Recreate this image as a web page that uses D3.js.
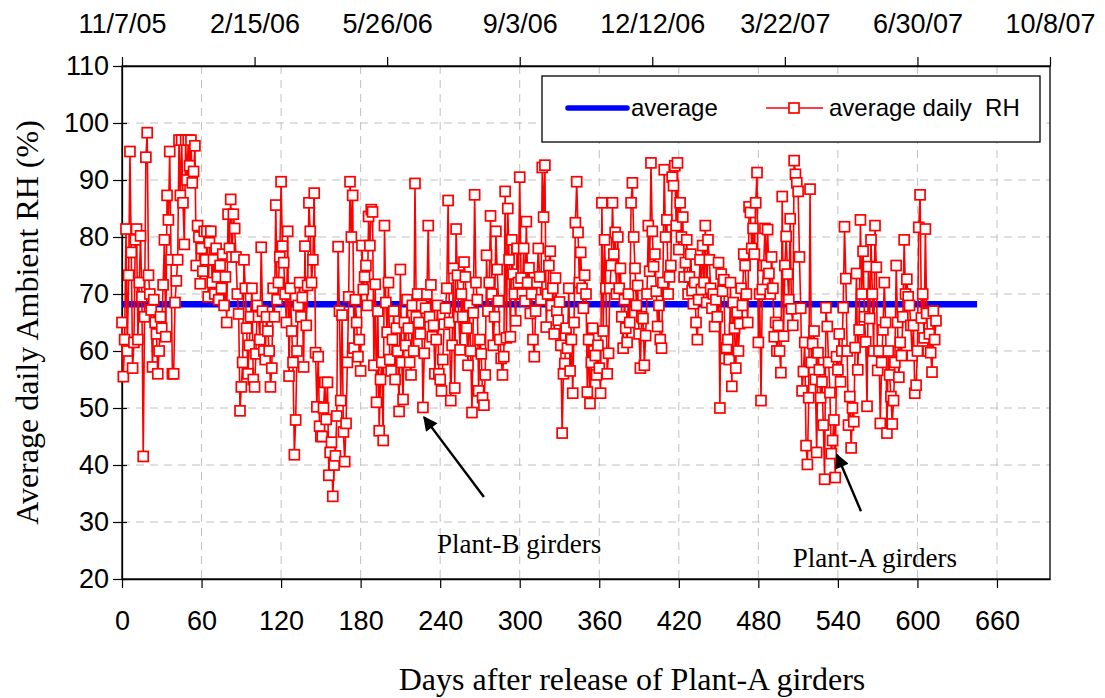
<!DOCTYPE html>
<html>
<head>
<meta charset="utf-8">
<script src="https://cdn.jsdelivr.net/npm/d3@7"></script>
<style>
  body { margin: 0; background: #fff; }
</style>
</head>
<body>
<div id="chart"></div>
<script>
// daily RH values, index = days after release of Plant-A girders
const rhValues = [
  65, 55.5, 62, 81.4, 60, 73.3, 95, 77.3, 57, 61.5,
  79.5, 81.4, 62, 72, 80.2, 69.5, 41.5, 66, 94, 98.3,
  73.3, 70, 67.2, 57.2, 69, 65, 63, 56, 60, 66,
  64, 71.6, 79.5, 62.5, 87.3, 83, 95, 76, 56, 56,
  68.5, 72.3, 76, 97, 87.3, 97, 86, 78.7, 97, 90,
  97, 92.5, 97, 89.5, 91.5, 96, 75, 82, 80, 71.8,
  78, 74, 81, 76, 81, 69.5, 79, 81, 72, 76,
  70, 78, 73, 69, 75, 71, 77, 68, 73, 65,
  84, 78, 86.6, 76.5, 84, 81.5, 76.5, 70, 66.5, 49.5,
  53.7, 58, 76, 71, 64, 56, 61, 66, 71, 55,
  53.7, 59.5, 68, 66, 62, 78.2, 67, 60, 58.5, 66,
  63.5, 60, 53.7, 57, 71, 66, 85.6, 69, 72, 76.5,
  89.7, 78.4, 75.5, 70, 65, 81, 55.6, 71, 63.5, 58,
  41.8, 47.9, 60, 68, 72, 66, 69.4, 57.2, 78.4, 64.5,
  71.5, 86, 81, 72, 76, 87.7, 59.7, 50.2, 59, 46.8,
  45, 45, 50, 54.5, 48, 54.5, 38.2, 42.2, 44, 34.5,
  40, 41.6, 48.6, 78.3, 67, 51.3, 66.3, 45.8, 40.6, 47.3,
  58, 69.5, 89.7, 80, 87.3, 60.5, 69, 65, 59, 62,
  56.5, 78.5, 70.8, 73, 75, 68, 83.6, 78.5, 84.8, 84.4,
  57.5, 71.7, 51, 67, 46, 55, 58, 44.3, 82, 68.5,
  63.3, 72, 58.5, 56.5, 62, 67, 55, 64, 60, 49.4,
  74.3, 58, 51.5, 65, 61, 69, 64, 58, 55.8, 68,
  60, 89.4, 66, 70, 65, 63, 68, 50.1, 59.6, 67.5,
  70, 82, 66, 71.6, 62.5, 64.5, 56, 62, 68, 56,
  55, 53, 58.5, 64.7, 67.5, 71, 86.4, 65, 51.3, 61,
  74.5, 53.5, 81.4, 73.3, 66, 60.2, 70, 66, 75.6, 73,
  64, 57.5, 68, 60, 49.2, 66.7, 87.4, 72, 69, 53,
  62, 59.5, 51.8, 50.5, 55.8, 76.8, 67, 72, 83.7, 70,
  61, 66, 81, 74.3, 68.8, 62, 58.7, 55.8, 59, 88,
  62.3, 85, 76, 62.5, 79.5, 73.5, 70, 65.3, 78, 72,
  90.5, 72.8, 70, 78, 68.8, 82.7, 72, 74.6, 66.6, 70,
  62, 59, 67, 72, 78, 73, 69, 92.2, 83.5, 92.6,
  64.2, 70, 75, 77.5, 68, 71, 63, 72.8, 67, 65.4,
  68.6, 61, 45.6, 56, 57.8, 64, 60.5, 71, 56.5, 62,
  52.6, 65, 82.5, 89.7, 80.8, 72, 77.3, 71, 67.5, 73.3,
  70, 52.8, 62, 50.8, 58, 64, 60, 59.2, 55.8, 61,
  57, 52.6, 86, 63.5, 79.5, 71, 56, 59.6, 71, 75,
  86, 77, 80.8, 70, 80, 71, 74.5, 66, 60.5, 69,
  64, 61.5, 70, 65, 86, 89.5, 80, 74.5, 68, 71.5,
  63, 57, 66, 65.7, 57.5, 62.7, 70, 82, 74, 93,
  81, 74.8, 77, 70.5, 64.3, 68, 62, 60.5, 72, 91.8,
  80, 83, 70, 73, 75, 90.5, 89, 92.5, 82, 93,
  77.8, 86, 80, 83.5, 73, 75.5, 79.5, 70, 73, 77,
  70.6, 68.3, 72, 65, 62, 69, 76, 70.8, 78.5, 72,
  82, 68.5, 79.5, 76, 71, 67.5, 70, 64.3, 69, 66,
  75.5, 50, 73.5, 70.5, 72.5, 58.7, 60.6, 62, 58.5, 72,
  53.8, 68.5, 64, 57, 66.8, 60, 64.8, 71, 68, 77,
  75, 70, 65, 85.3, 84.3, 78, 81.5, 77, 86, 91.3,
  61.5, 70, 51.3, 70.8, 75, 81.5, 75, 81.3, 73.6, 70,
  76.5, 71, 62.5, 65, 60, 64.5, 60, 56.2, 87.1, 62.6,
  75, 80.1, 73.5, 69, 83.2, 67.4, 64.5, 93.4, 91, 89.5,
  88, 76.5, 67.5, 53, 56.4, 61.5, 43.4, 40.1, 51.8, 88.4,
  58, 61.3, 63.5, 55, 42.2, 59.7, 56.7, 51.8, 54.6, 47,
  37.5, 67.6, 64.3, 58, 52.7, 42, 44.3, 47.9, 37.8, 59,
  56.7, 63, 54.6, 60, 67.6, 81.8, 72.7, 60, 47, 52,
  43, 50, 47.6, 60.6, 73.6, 56.7, 63.7, 83, 70, 77.5,
  66, 61.6, 50.3, 74.8, 65.7, 79.5, 70, 60, 82, 74.7,
  56.6, 60, 47.3, 58, 63.7, 72, 65, 45.6, 60, 55.8,
  52, 47.2, 51.3, 58, 75, 65, 55.4, 61.5, 59.2, 66,
  79.5, 70, 72.6, 69.5, 68, 64.5, 59.2, 64.5, 52.6, 54,
  60, 81.7, 87.4, 65.8, 70, 62.3, 81.4, 66.6, 60, 63,
  59.7, 56.3, 67, 62, 65.3
];

const avgRH = 68.2;
const avgDays = [0, 645];

const xTicks = [0, 60, 120, 180, 240, 300, 360, 420, 480, 540, 600, 660];
const yTicks = [20, 30, 40, 50, 60, 70, 80, 90, 100, 110];
const topTicks = [0, 100, 200, 300, 400, 500, 600, 700];
const topLabels = ["11/7/05", "2/15/06", "5/26/06", "9/3/06", "12/12/06", "3/22/07", "6/30/07", "10/8/07"];

// annotations: [label, text day, text RH, arrow tail day, tail RH, head day, head RH]
const notes = [
  ["Plant-B girders", 237.6, 24.6, 273, 34.4, 227.8, 48.4],
  ["Plant-A girders", 506, 22.1, 557.4, 31.9, 539.3, 41.8]
];

const W = 1105, H = 698;
const margin = {top: 66, right: 55, bottom: 119, left: 122};
const width = W - margin.left - margin.right;
const height = H - margin.top - margin.bottom;

const sans = "'Liberation Sans', Arial, sans-serif";
const serif = "'Liberation Serif', 'Times New Roman', serif";

const root = d3.select("#chart").append("svg")
    .attr("width", W)
    .attr("height", H);

const defs = root.append("defs");
defs.append("marker")
    .attr("id", "arrow")
    .attr("viewBox", "0 0 10 10")
    .attr("refX", 9).attr("refY", 5)
    .attr("markerWidth", 7).attr("markerHeight", 6)
    .attr("markerUnits", "strokeWidth")
    .attr("orient", "auto")
    .append("path")
    .attr("d", "M0,0 L10,5 L0,10 z")
    .attr("fill", "#000");

const svg = root.append("g")
    .attr("transform", `translate(${margin.left},${margin.top})`);

// Scales
const x = d3.scaleLinear().domain([0, 700]).range([0, width]);
const y = d3.scaleLinear().domain([20, 110]).range([height, 0]);

// Grid
svg.append("g").selectAll("line")
    .data(yTicks.filter(v => v > 20 && v < 110))
    .enter().append("line")
    .attr("x1", 0).attr("x2", width)
    .attr("y1", d => y(d)).attr("y2", d => y(d))
    .attr("stroke", "#c0c0c0").attr("stroke-width", 1)
    .attr("stroke-dasharray", "8,6");

svg.append("g").selectAll("line")
    .data(xTicks.filter(v => v > 0))
    .enter().append("line")
    .attr("x1", d => x(d)).attr("x2", d => x(d))
    .attr("y1", 0).attr("y2", height)
    .attr("stroke", "#c0c0c0").attr("stroke-width", 1)
    .attr("stroke-dasharray", "8,6");

// Frame
svg.append("rect")
    .attr("width", width).attr("height", height)
    .attr("fill", "none").attr("stroke", "#000").attr("stroke-width", 1.3);

// Axes
const xAxis = svg.append("g")
    .attr("transform", `translate(0,${height})`)
    .call(d3.axisBottom(x).tickValues(xTicks).tickSize(9).tickPadding(23).tickSizeOuter(0));

const yAxis = svg.append("g")
    .call(d3.axisLeft(y).tickValues(yTicks).tickSize(9).tickPadding(4).tickSizeOuter(0));
yAxis.selectAll(".tick line").attr("x1", 5);

const topAxis = svg.append("g")
    .call(d3.axisTop(x).tickValues(topTicks).tickSize(9).tickPadding(24).tickSizeOuter(0)
        .tickFormat((d, i) => topLabels[i]));

[xAxis, yAxis, topAxis].forEach(g => {
    g.select(".domain").attr("stroke", "#000").attr("stroke-width", 1.3);
    g.selectAll(".tick line").attr("stroke", "#000").attr("stroke-width", 1.2);
    g.selectAll(".tick text")
        .attr("fill", "#000")
        .style("font-family", sans)
        .style("font-size", "27px");
});

// Average line
svg.append("line")
    .attr("x1", x(avgDays[0])).attr("x2", x(avgDays[1]))
    .attr("y1", y(avgRH)).attr("y2", y(avgRH))
    .attr("stroke", "#0000ff").attr("stroke-width", 6.5);

// Daily RH series
const line = d3.line()
    .x((d, i) => x(i))
    .y(d => y(d));

svg.append("path")
    .datum(rhValues)
    .attr("d", line)
    .attr("fill", "none")
    .attr("stroke", "#ff0000")
    .attr("stroke-width", 1.6)
    .attr("stroke-linejoin", "round");

svg.append("g").selectAll("rect")
    .data(rhValues)
    .enter().append("rect")
    .attr("x", (d, i) => x(i) - 5)
    .attr("y", d => y(d) - 5)
    .attr("width", 10).attr("height", 10)
    .attr("fill", "#fff")
    .attr("stroke", "#ff0000")
    .attr("stroke-width", 1.7);

// Annotations
notes.forEach(n => {
    svg.append("line")
        .attr("x1", x(n[3])).attr("y1", y(n[4]))
        .attr("x2", x(n[5])).attr("y2", y(n[6]))
        .attr("stroke", "#000").attr("stroke-width", 2.4)
        .attr("marker-end", "url(#arrow)");
    svg.append("text")
        .attr("x", x(n[1])).attr("y", y(n[2]))
        .style("font-family", serif)
        .style("font-size", "27px")
        .attr("fill", "#000")
        .text(n[0]);
});

// Legend
const legend = svg.append("g")
    .attr("transform", `translate(${542 - margin.left},${76 - margin.top})`);
legend.append("rect")
    .attr("width", 498).attr("height", 66)
    .attr("fill", "#fff").attr("stroke", "#000").attr("stroke-width", 1.3);
legend.append("line")
    .attr("x1", 26).attr("x2", 85).attr("y1", 32).attr("y2", 32)
    .attr("stroke", "#0000ff").attr("stroke-width", 5.5).attr("stroke-linecap", "round");
legend.append("text")
    .attr("x", 89).attr("y", 40)
    .style("font-family", sans).style("font-size", "24px")
    .text("average");
legend.append("line")
    .attr("x1", 224).attr("x2", 281).attr("y1", 32).attr("y2", 32)
    .attr("stroke", "#ff0000").attr("stroke-width", 1.6);
legend.append("rect")
    .attr("x", 247).attr("y", 27).attr("width", 10).attr("height", 10)
    .attr("fill", "#fff").attr("stroke", "#ff0000").attr("stroke-width", 1.7);
legend.append("text")
    .attr("x", 287).attr("y", 40)
    .attr("xml:space", "preserve")
    .style("font-family", sans).style("font-size", "24px")
    .text("average daily  RH");

// Axis titles
root.append("text")
    .attr("transform", `translate(38,${margin.top + height / 2}) rotate(-90)`)
    .attr("text-anchor", "middle")
    .style("font-family", serif)
    .style("font-size", "32px")
    .text("Average daily Ambient RH (%)");

root.append("text")
    .attr("x", 632).attr("y", 690)
    .attr("text-anchor", "middle")
    .style("font-family", serif)
    .style("font-size", "32px")
    .text("Days after release of Plant-A girders");
</script>
</body>
</html>
